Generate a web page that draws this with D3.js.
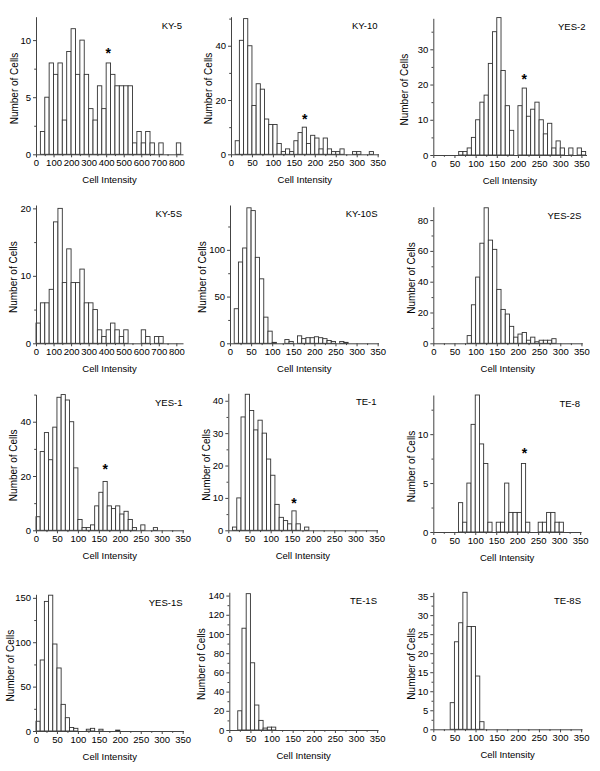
<!DOCTYPE html>
<html><head><meta charset="utf-8">
<script src="https://cdn.jsdelivr.net/npm/d3@7"></script>
<style>
body{margin:0;background:#fff;}
svg{display:block;}
text{font-family:Arial,"Liberation Sans",sans-serif;}
</style></head><body>
<svg id="c" width="600" height="771"></svg>
<script>
// ---------- data ----------
const panelNames = ["KY-5","KY-10","YES-2","KY-5S","KY-10S","YES-2S","YES-1","TE-1","TE-8","YES-1S","TE-1S","TE-8S"];
const binWidths  = [25,10,10,25,10,10,10,10,10,10,10,10];
// counts per bin, starting at intensity 0
const ky5   = [0,2,5,8,7,8,3,9,11,7,10,7,4,3,6,4,8,7,6,6,6,6,1,2,1,2,1,0,1,0,0,0,1];
const ky10  = [0,5,42,50,40,18,26,24,13,11,11,4,1,2,1,5,8,10,4,7,6,2,6,2,1,1,2,0,0,1,1,0,0,1];
const yes2  = [0,0,0,0,0,0,1,1,2,5,10,15,17,26,35,39,24,14,7,0,14,19,11,13,15,10,6,9,2,4,2,0,2,0,2,1];
const ky5s  = [3,6,6,8,18,20,9,14,9,9,11,6,6,5,2,1,2,3,2,1,2,0,0,0,2,1,0,1,1];
const ky10s = [0,37,87,102,145,142,92,69,28,13,1,0,0,4,2,0,8,5,6,6,7,6,5,3,2,0,2,1];
const yes2s = [0,0,0,0,0,0,0,0,5,25,43,65,88,67,61,35,22,19,11,4,6,7,2,4,1,2,2,2,3];
const yes1  = [5,29,36,26,38,49,50,48,40,23,4,1,1,2,9,14,18,9,8,9,6,7,4,1,0,2,0,0,1];
const te1   = [0,1,10,35,42,37,31,34,30,22,17,8,4,3,2,6,2,0,1];
const te8   = [0,0,0,0,0,0,3,1,5,11,14,9,7,1,0,1,1,5,2,2,2,7,1,0,0,1,1,2,2,1,1];
const yes1s = [11,80,146,153,98,71,30,15,4,3,0,0,2,3,0,2,0,0,0,1];
const te1s  = [0,0,20,106,142,70,26,10,2,3,3];
const te8s  = [0,0,0,0,7,23,28,36,27,27,14,2];
const allCounts = [ky5,ky10,yes2,ky5s,ky10s,yes2s,yes1,te1,te8,yes1s,te1s,te8s];

const xTicksWide   = [0,100,200,300,400,500,600,700,800];
const xTicksNarrow = [0,50,100,150,200,250,300,350];
const yTickValues = [
  [0,5,10],[0,20,40],[0,10,20,30],
  [0,10,20],[0,50,100],[0,20,40,60,80],
  [0,20,40],[0,10,20,30,40],[0,5,10],
  [0,50,100,150],[0,20,40,60,80,100,120,140],[0,5,10,15,20,25,30,35]
];
// asterisks: [panel index, intensity, count level]
const starPanels = [0,1,2,6,7,8];
const starX = [412,176,215,165,155,217];
const starY = [9.1,14.1,22.4,23.4,9.2,8.3];

const xLabel = "Cell Intensity";
const yLabel = "Number of Cells";

// ---------- layout ----------
const layout = [
  {left:36,   right:183,   xmax:838, top:16.7,  bottom:154.3, ymax:12.05, ylx:14},
  {left:231,  right:378.5, xmax:352, top:16.7,  bottom:154.3, ymax:50.7,  ylx:208.5},
  {left:433.3,right:586.5, xmax:362, top:18.3,  bottom:155,   ymax:38.8,  ylx:404.5},
  {left:36,   right:183,   xmax:838, top:205,   bottom:343.3, ymax:20.5,  ylx:13.5},
  {left:230,  right:378.5, xmax:352, top:205,   bottom:343.3, ymax:148,   ylx:202},
  {left:433.3,right:582.3, xmax:352, top:206.7, bottom:343.3, ymax:88.7,  ylx:411},
  {left:36,   right:183.5, xmax:352, top:394.3, bottom:530.3, ymax:50.1,  ylx:13.5},
  {left:228.3,right:377.5, xmax:352, top:393.3, bottom:530.3, ymax:42.3,  ylx:206},
  {left:433.3,right:581,   xmax:352, top:395,   bottom:532,   ymax:14,    ylx:411.5},
  {left:36,   right:183.5, xmax:352, top:594.3, bottom:731,   ymax:154,   ylx:10.5},
  {left:229.3,right:378,   xmax:352, top:592.3, bottom:730,   ymax:143.4, ylx:201},
  {left:433.3,right:582,   xmax:352, top:592.3, bottom:729.3, ymax:36,    ylx:411}
];

const svg = d3.select("#c");
const axisColor = "#444";

layout.forEach((L, p) => {
  const g = svg.append("g");
  const x = d3.scaleLinear().domain([0, L.xmax]).range([L.left, L.right]);
  const y = d3.scaleLinear().domain([0, L.ymax]).range([L.bottom, L.top]);
  const w = binWidths[p];
  const data = allCounts[p].map((c, i) => ({x0: i*w, x1: (i+1)*w, c})).filter(d => d.c > 0);

  g.selectAll("rect").data(data).join("rect")
    .attr("x", d => x(d.x0))
    .attr("y", d => y(d.c))
    .attr("width", d => x(d.x1) - x(d.x0))
    .attr("height", d => y(0) - y(d.c))
    .attr("fill", "#fff")
    .attr("stroke", "#333")
    .attr("stroke-width", 0.9);

  const xt = L.xmax > 400 ? xTicksWide : xTicksNarrow;
  const step = xt[1] - xt[0];
  const xMinor = d3.range(step/2, L.xmax, step).filter(v => xt.indexOf(v) < 0);
  const yt = yTickValues[p];
  const ystep = yt[1] - yt[0];
  const yMinor = d3.range(ystep/2, L.ymax, ystep);

  const xa = g.append("g").attr("transform", `translate(0,${L.bottom})`)
    .call(d3.axisBottom(x).tickValues(xt).tickSize(3).tickSizeOuter(0).tickPadding(2).tickFormat(d3.format("d")));
  g.append("g").attr("transform", `translate(0,${L.bottom})`)
    .call(d3.axisBottom(x).tickValues(xMinor).tickSize(1.8).tickSizeOuter(0).tickFormat(""))
    .call(s => s.select(".domain").remove());
  const ya = g.append("g").attr("transform", `translate(${L.left},0)`)
    .call(d3.axisLeft(y).tickValues(yt).tickSize(3).tickSizeOuter(0).tickPadding(2).tickFormat(d3.format("d")));
  g.append("g").attr("transform", `translate(${L.left},0)`)
    .call(d3.axisLeft(y).tickValues(yMinor).tickSize(1.8).tickSizeOuter(0).tickFormat(""))
    .call(s => s.select(".domain").remove());

  g.selectAll(".domain, .tick line").attr("stroke", axisColor);
  g.selectAll(".tick text").attr("font-size", 9.5).attr("fill", "#000")
    .attr("font-family", "Arial, 'Liberation Sans', sans-serif");

  // panel title
  g.append("text").attr("x", L.right - 1).attr("y", L.top + 12)
    .attr("text-anchor", "end").attr("font-size", 9.5).text(panelNames[p]);
  // x label
  g.append("text").attr("x", (L.left + L.right) / 2).attr("y", L.bottom + 29)
    .attr("text-anchor", "middle").attr("font-size", 9.5).text(xLabel);
  // y label
  const cy = (L.top + L.bottom) / 2 + 3;
  g.append("text").attr("transform", `translate(${L.ylx + 3.5},${cy}) rotate(-90)`)
    .attr("text-anchor", "middle").attr("font-size", 10).text(yLabel);
});

// asterisks
starPanels.forEach((p, k) => {
  const L = layout[p];
  const x = d3.scaleLinear().domain([0, L.xmax]).range([L.left, L.right]);
  const y = d3.scaleLinear().domain([0, L.ymax]).range([L.bottom, L.top]);
  svg.append("text").attr("x", x(starX[k])).attr("y", y(starY[k]) + 7.5)
    .attr("text-anchor", "middle").attr("font-size", 14).attr("font-weight", "bold").text("*");
});
</script>
</body></html>
